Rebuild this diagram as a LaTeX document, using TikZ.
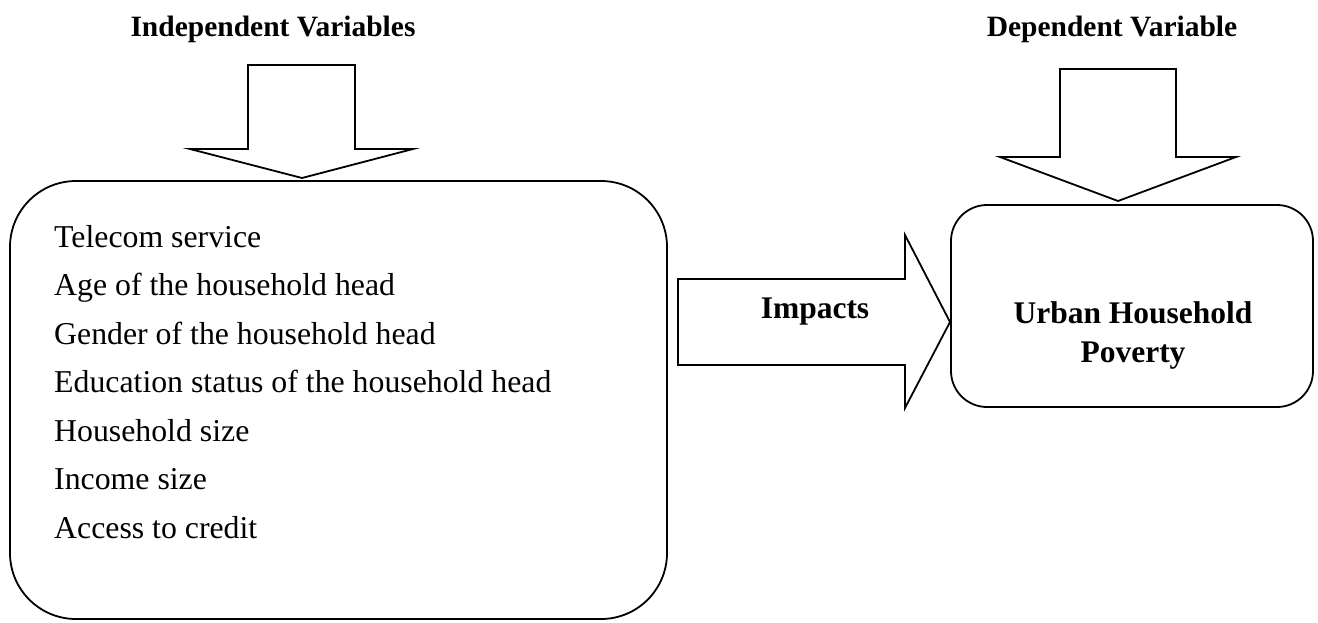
\documentclass[tikz,border=0pt]{standalone}
\usepackage{fontspec}
\setmainfont{Liberation Serif}
\begin{document}
\begin{tikzpicture}[x=1pt,y=-1pt,
  line/.style={draw=black,line width=1.8pt,line join=miter},
  body/.style={font=\fontsize{31.8}{36}\selectfont,anchor=base west,inner sep=0pt},
  bold/.style={font=\fontsize{31.5}{36}\selectfont\bfseries,inner sep=0pt},
  title/.style={font=\fontsize{29.5}{34}\selectfont\bfseries,inner sep=0pt,anchor=base}]
\useasboundingbox (0,0) rectangle (1318,622);
% titles
\node[title] (tind) at (273,36) {Independent Variables};
\node[title] (tdep) at (1112,36) {Dependent Variable};
% left box
\draw[line,rounded corners=66pt] (10,181) rectangle (667,619);
\coordinate (lbox) at (338,400);
% right box
\draw[line,rounded corners=36pt] (951,205) rectangle (1313,407);
\coordinate (rbox) at (1132,306);
% down arrows
\draw[line] (248,65) -- (355,65) -- (355,149) -- (413,149) -- (302,178) -- (190,149) -- (248,149) -- cycle;
\draw[line] (1060,69) -- (1176,69) -- (1176,157) -- (1236,157) -- (1118,201) -- (1000,157) -- (1060,157) -- cycle;
% right arrow
\draw[line] (678,279) -- (905,279) -- (905,235) -- (950,322) -- (905,408) -- (905,365) -- (678,365) -- cycle;
\node[bold,anchor=base] (imp) at (815,318) {Impacts};
% left list
\node[body] (v1) at (54,247) {Telecom service};
\node[body] (v2) at (54,295.5) {Age of the household head};
\node[body] (v3) at (54,344) {Gender of the household head};
\node[body] (v4) at (54,392.5) {Education status of the household head};
\node[body] (v5) at (54,441) {Household size};
\node[body] (v6) at (54,489.5) {Income size};
\node[body] (v7) at (54,538) {Access to credit};
% right box text
\node[bold,anchor=base] (u1) at (1133,323) {Urban Household};
\node[bold,anchor=base] (u2) at (1133,362) {Poverty};
\end{tikzpicture}
\end{document}
